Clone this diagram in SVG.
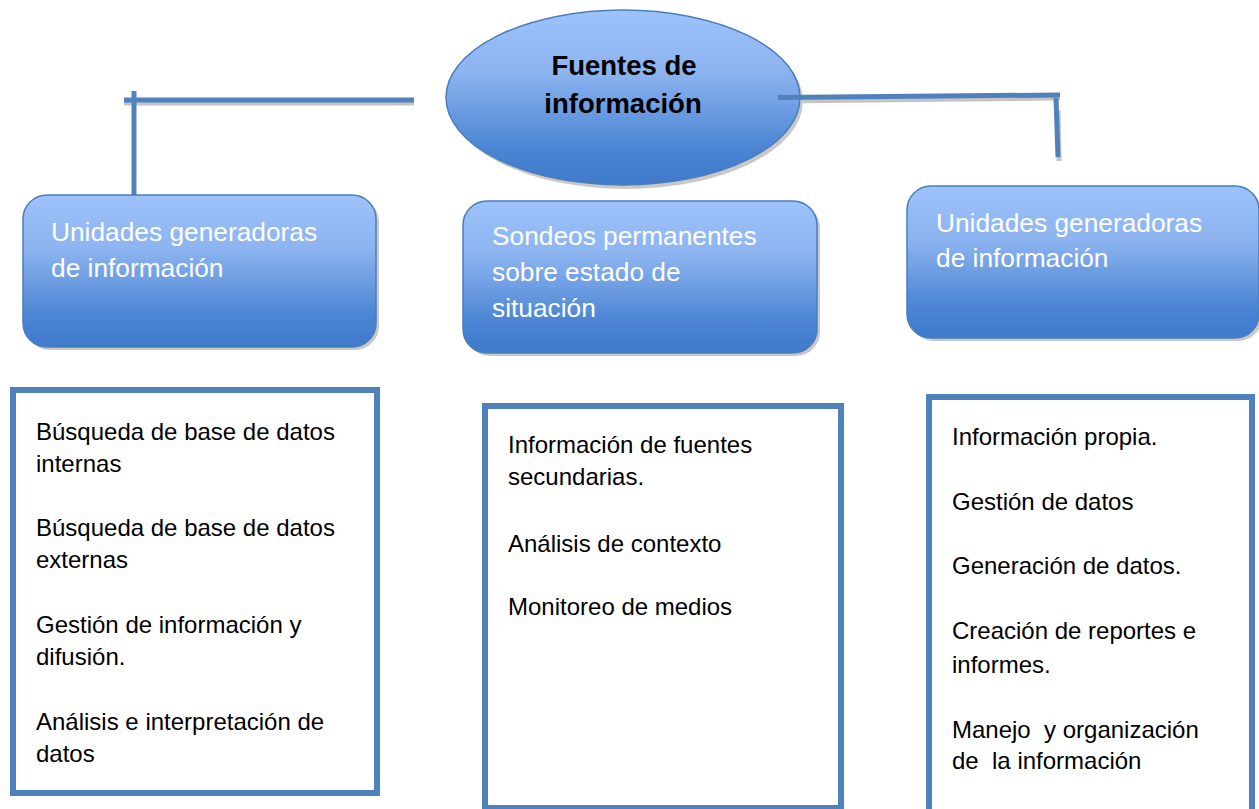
<svg xmlns="http://www.w3.org/2000/svg" width="1259" height="809" viewBox="0 0 1259 809">
<defs>
<linearGradient id="blueGrad" x1="0" y1="0" x2="0" y2="1">
<stop offset="0" stop-color="#9dc2fb"/>
<stop offset="0.35" stop-color="#8db4f0"/>
<stop offset="0.8" stop-color="#4a84d3"/>
<stop offset="1" stop-color="#3f7acb"/>
</linearGradient>
<style>
.shape{fill:url(#blueGrad);stroke:#4a7ebb;stroke-width:1.5}
.shadow{fill:#c8c8c8}
.head{font-family:"Liberation Sans",Arial,sans-serif;font-size:26.3px;fill:#ffffff}
.title{font-family:"Liberation Sans",Arial,sans-serif;font-size:27.5px;font-weight:bold;fill:#000000}
.box{fill:#ffffff;stroke:#4f81bd;stroke-width:6}
.item{font-family:"Liberation Sans",Arial,sans-serif;font-size:24px;fill:#000000}
.conn{stroke:#4f81bd;stroke-width:5;fill:none}
.connsh{stroke:#c4c4c4;stroke-width:5;fill:none}
</style>
</defs>
<rect width="1259" height="809" fill="#ffffff"/>

<g id="connectors-shadow">
<line class="connsh" x1="124" y1="103" x2="414" y2="103"/>
<line class="connsh" x1="778" y1="101" x2="1060" y2="98"/>
<line class="connsh" x1="1058" y1="110" x2="1059" y2="161"/>
</g>

<g id="root">
<ellipse cx="626" cy="101" rx="177" ry="88" class="shadow"/>
<ellipse cx="623" cy="97.5" rx="177" ry="87.5" class="shape"/>
<text class="title" x="624" y="75" text-anchor="middle">Fuentes de</text>
<text class="title" x="623" y="113" text-anchor="middle">información</text>
</g>

<g id="connectors">
<line class="conn" x1="124" y1="100" x2="414" y2="100"/>
<line class="conn" x1="134" y1="91" x2="134" y2="197"/>
<line class="conn" x1="778" y1="97.5" x2="1060" y2="95"/>
<line class="conn" x1="1056" y1="98" x2="1058" y2="157"/>
</g>

<g id="node-left">
<rect x="26" y="198" width="353" height="152" rx="24" class="shadow"/>
<rect x="23" y="195" width="353" height="152" rx="24" class="shape"/>
<text class="head" x="51" y="241">Unidades generadoras</text>
<text class="head" x="51" y="277">de información</text>
</g>

<g id="node-middle">
<rect x="466" y="204" width="354" height="152" rx="24" class="shadow"/>
<rect x="463" y="201" width="354" height="152" rx="24" class="shape"/>
<text class="head" x="492" y="245">Sondeos permanentes</text>
<text class="head" x="492" y="281">sobre estado de</text>
<text class="head" x="492" y="317">situación</text>
</g>

<g id="node-right">
<rect x="910" y="189" width="352" height="152" rx="24" class="shadow"/>
<rect x="907" y="186" width="352" height="152" rx="24" class="shape"/>
<text class="head" x="936" y="232">Unidades generadoras</text>
<text class="head" x="936" y="267">de información</text>
</g>

<g id="list-left">
<rect x="13" y="390" width="364" height="403" class="box"/>
<text class="item" x="36" y="440">Búsqueda de base de datos</text>
<text class="item" x="36" y="472">internas</text>
<text class="item" x="36" y="536">Búsqueda de base de datos</text>
<text class="item" x="36" y="568">externas</text>
<text class="item" x="36" y="633">Gestión de información y</text>
<text class="item" x="36" y="665">difusión.</text>
<text class="item" x="36" y="730">Análisis e interpretación de</text>
<text class="item" x="36" y="762">datos</text>
</g>

<g id="list-middle">
<rect x="485" y="406" width="356" height="402" class="box"/>
<text class="item" x="508" y="453">Información de fuentes</text>
<text class="item" x="508" y="485">secundarias.</text>
<text class="item" x="508" y="552">Análisis de contexto</text>
<text class="item" x="508" y="615">Monitoreo de medios</text>
</g>

<g id="list-right">
<rect x="929" y="397" width="323" height="430" class="box"/>
<text class="item" x="952" y="445">Información propia.</text>
<text class="item" x="952" y="510">Gestión de datos</text>
<text class="item" x="952" y="574">Generación de datos.</text>
<text class="item" x="952" y="639">Creación de reportes e</text>
<text class="item" x="952" y="673">informes.</text>
<text class="item" x="952" y="738" xml:space="preserve">Manejo  y organización</text>
<text class="item" x="952" y="769" xml:space="preserve">de  la información</text>
</g>
</svg>
